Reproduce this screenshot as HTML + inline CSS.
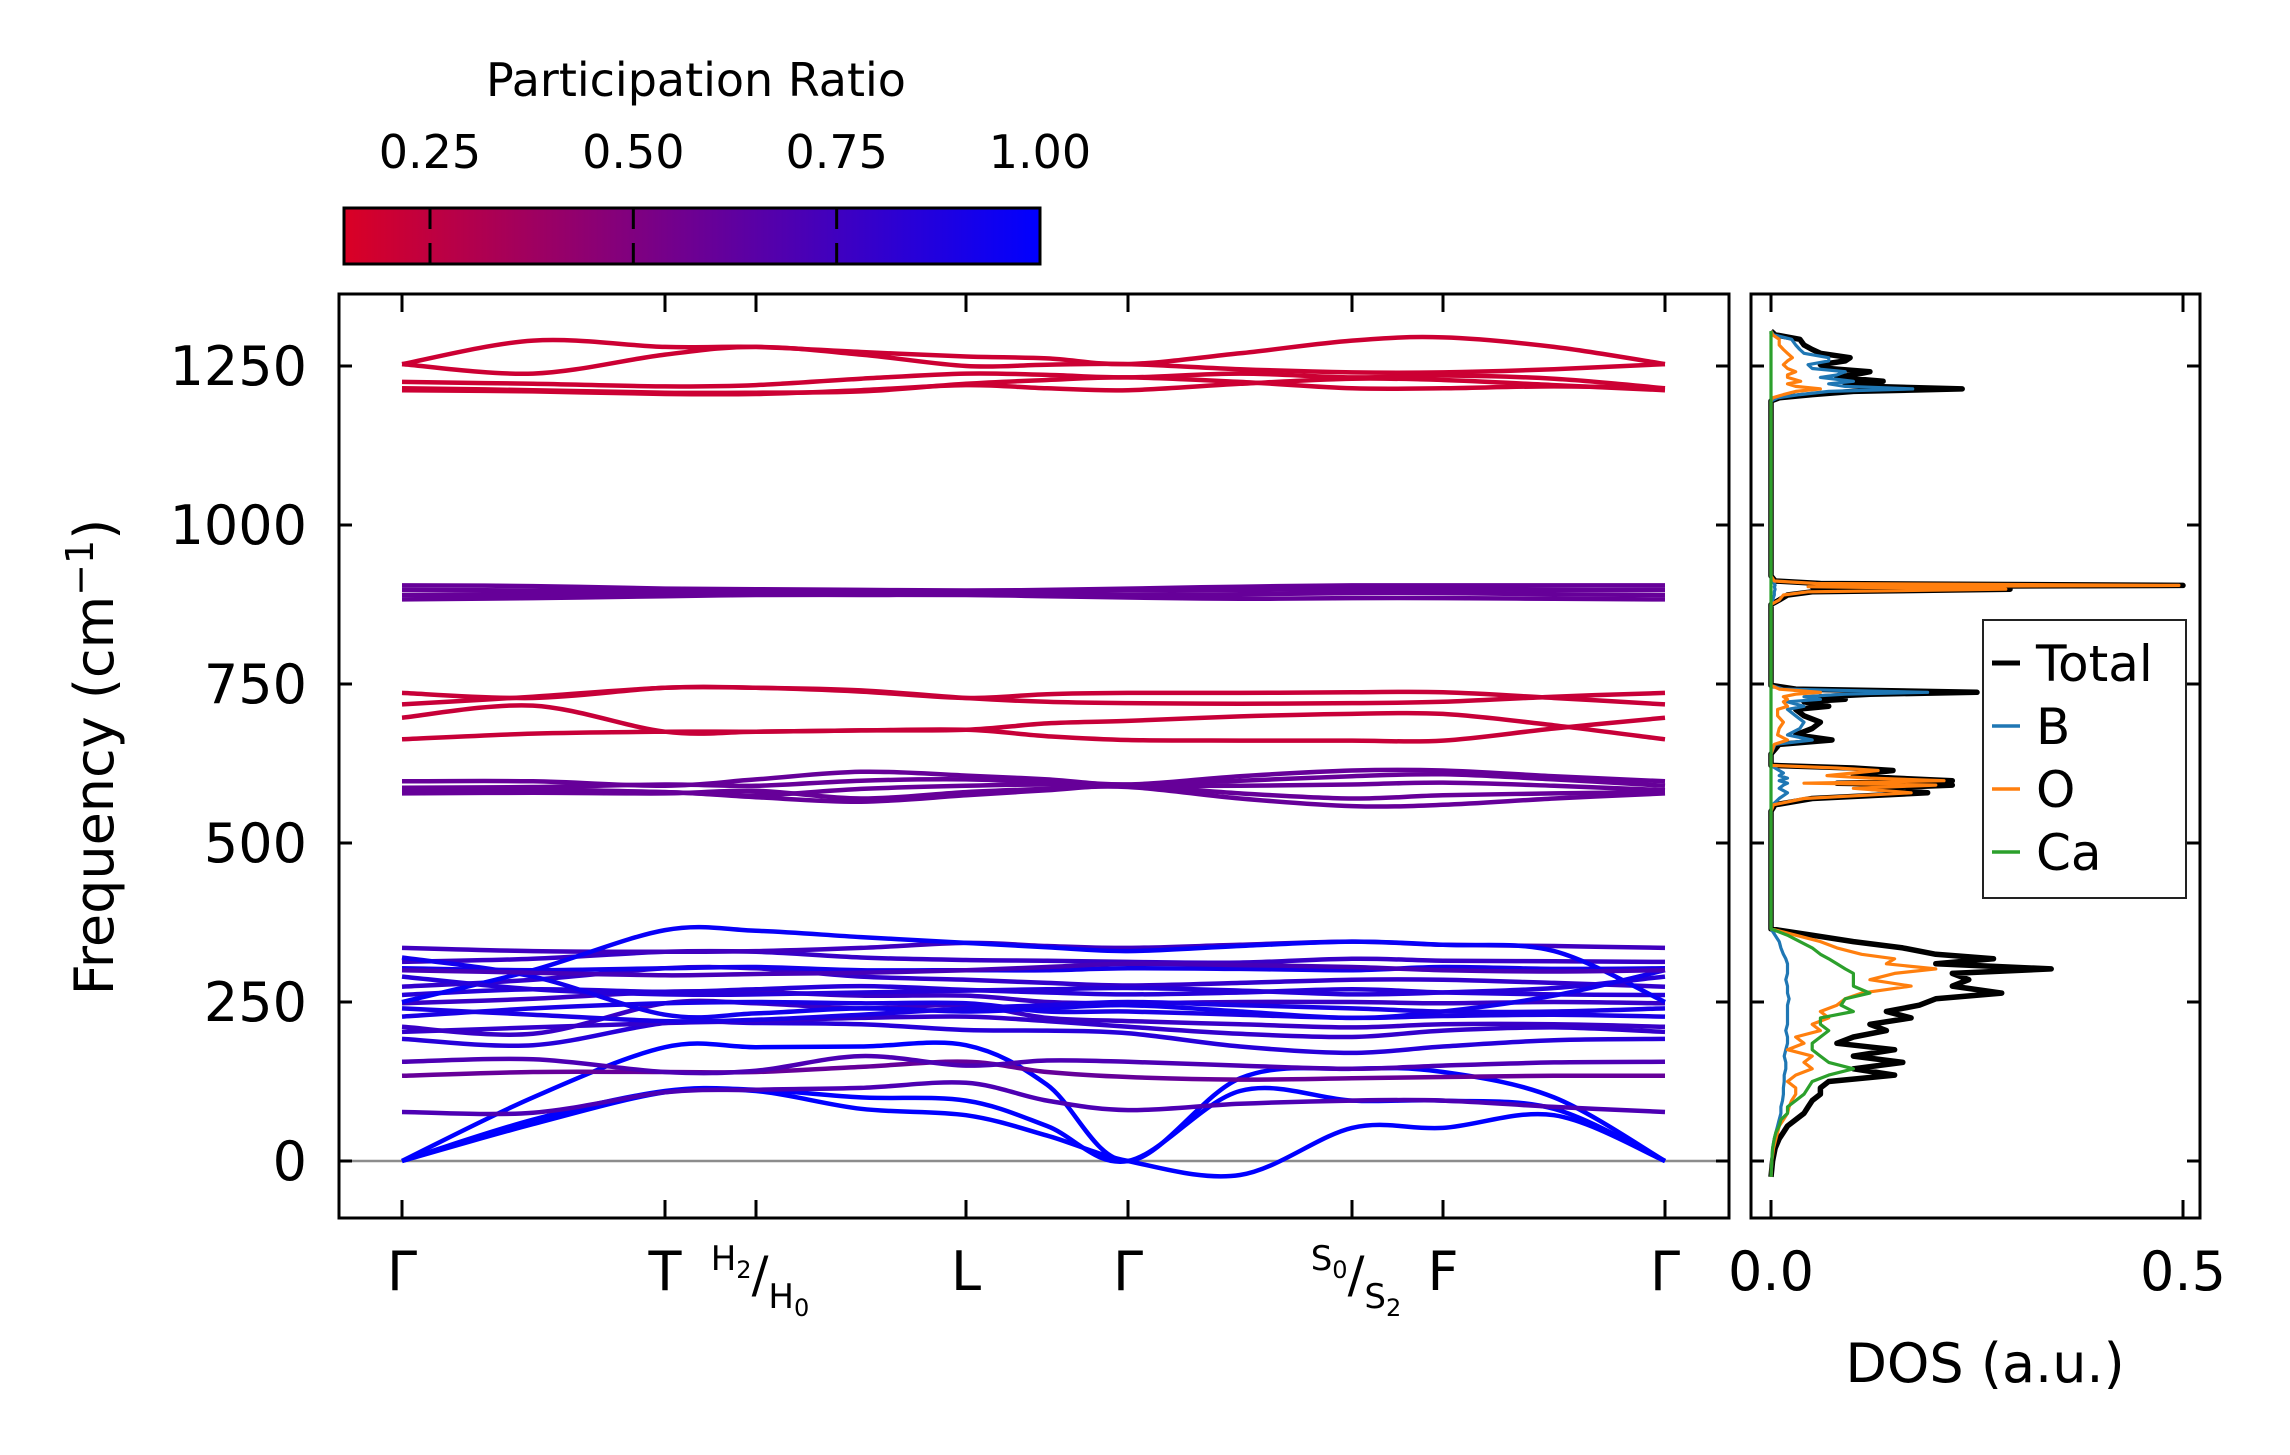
<!DOCTYPE html>
<html><head><meta charset="utf-8"><style>
html,body{margin:0;padding:0;background:#fff;}
svg{display:block;font-family:"DejaVu Sans","Liberation Sans",sans-serif;}
</style></head><body>
<svg id="chart" width="2290" height="1455" viewBox="0 0 2290 1455" xmlns="http://www.w3.org/2000/svg">
<defs>
<linearGradient id="cbgrad" x1="0" x2="1" y1="0" y2="0">
<stop offset="0" stop-color="rgb(218,0,37)"/><stop offset="1" stop-color="rgb(0,0,255)"/>
</linearGradient>
<clipPath id="mainclip"><rect x="339" y="294" width="1390" height="924"/></clipPath>
<clipPath id="dosclip"><rect x="1751" y="294" width="449" height="924"/></clipPath>
</defs>
<g id="bands" clip-path="url(#mainclip)"></g>
<g id="dos" clip-path="url(#dosclip)"></g>
<g id="axes"></g>
</svg>
<script>
// ---- Band structure data ----
const kNodes = [0,131,263,354,459,564,645,726,838,950,1041,1152,1263];
const kTickPos = [0,263,354,564,726,950,1041,1263];
const kTickLabels = ["Γ","T","H2/H0","L","Γ","S0/S2","F","Γ"];
const freqTicks = [0,250,500,750,1000,1250];
const bandFreqs = [
 [1253,1290,1280,1280,1272,1265,1262,1253,1270,1290,1295,1280,1253],
 [1253,1238,1268,1280,1268,1250,1252,1253,1245,1240,1240,1245,1253],
 [1215,1212,1208,1208,1210,1222,1228,1232,1225,1215,1215,1218,1215],
 [1212,1210,1206,1206,1212,1220,1215,1212,1222,1230,1228,1220,1212],
 [1225,1222,1218,1220,1230,1238,1236,1232,1238,1232,1235,1230,1215],
 [905,904,900,899,898,897,898,900,903,905,905,905,905],
 [898,897,896,896,896,895,896,897,898,899,899,898,898],
 [890,891,893,894,892,893,892,890,891,893,893,891,890],
 [883,885,888,890,890,890,888,886,884,885,885,884,883],
 [736,728,744,744,738,728,734,736,736,737,737,728,718],
 [718,730,744,744,740,728,722,720,719,720,722,730,736],
 [697,716,675,675,677,678,688,692,699,703,703,685,663],
 [663,672,675,675,677,678,668,662,661,661,661,680,697],
 [597,597,590,600,612,606,600,592,605,614,614,605,597],
 [587,588,592,590,598,600,595,592,598,605,608,600,590],
 [582,584,580,575,585,590,592,590,590,592,595,590,583],
 [580,580,580,572,565,575,583,590,578,570,575,578,580],
 [578,579,578,582,570,580,585,588,570,558,560,570,578],
 [0,58,108,110,82,72,40,0,-22,52,52,72,0],
 [0,65,110,112,100,95,55,0,110,95,95,82,0],
 [0,100,179,179,180,182,120,0,130,145,140,100,0],
 [77,76,108,112,115,123,95,80,90,95,95,85,77],
 [134,140,140,140,148,156,140,132,128,130,132,134,134],
 [156,160,140,142,165,150,158,156,150,145,150,155,156],
 [192,182,217,217,215,206,205,201,180,170,180,190,192],
 [203,210,217,220,225,227,220,211,200,195,205,210,203],
 [211,200,248,248,240,245,225,220,215,210,215,215,211],
 [227,240,248,250,248,248,235,235,230,225,228,230,227],
 [248,255,266,266,260,260,250,248,250,250,248,250,248],
 [261,270,266,270,275,269,265,262,265,270,265,262,261],
 [274,285,303,303,290,285,280,276,280,285,285,280,274],
 [303,300,303,305,300,300,300,303,302,300,305,302,303],
 [313,318,329,329,320,316,315,313,312,318,315,314,313],
 [335,330,329,330,335,343,338,335,340,345,340,338,335],
 [250,300,363,362,352,343,336,330,338,345,340,330,250],
 [290,270,262,262,265,268,270,272,268,262,265,272,290],
 [320,290,230,232,240,235,240,245,235,225,235,260,300],
 [300,296,292,294,296,300,305,310,308,305,300,298,300],
 [240,230,220,222,230,240,245,250,245,240,235,235,240]
];
const bandRatio = [0.2,0.2,0.2,0.2,0.2,0.6,0.6,0.6,0.6,0.22,0.22,0.22,0.22,0.6,0.6,0.6,0.6,0.6,
 1.0,1.0,1.0,0.7,0.6,0.7,0.85,0.8,0.78,0.9,0.78,0.85,0.8,0.92,0.78,0.75,0.97,0.85,0.93,0.72,0.9];
const cbTicks = [0.25,0.5,0.75,1.0];
const cbTickLabels = ["0.25","0.50","0.75","1.00"];

// ---- DOS data ----
const dosFreq = [
 -25,0,20,35,45,55,65,75,85,95,105,115,125,135,145,155,165,175,185,195,205,215,225,235,245,255,264,275,285,295,302,310,318,325,335,345,355,365,
 375,550,560,570,579,586,591,594,598,602,606,610,614,618,622,
 630,640,655,662,670,680,690,700,710,715,722,726,730,734,737,742,748,
 760,875,882,890,895,899,903,905,908,912,920,
 1195,1200,1205,1210,1214,1218,1222,1226,1232,1236,1241,1246,1252,1258,1263,1270,1276,1283,1292,1299,1305];
const dosTotal = [
 0,0.002,0.005,0.01,0.015,0.02,0.03,0.04,0.045,0.05,0.06,0.06,0.07,0.15,0.10,0.16,0.10,0.15,0.08,0.10,0.14,0.12,0.17,0.14,0.18,0.20,0.28,0.22,0.24,0.22,0.34,0.20,0.27,0.20,0.16,0.10,0.05,0,
 0,0,0.005,0.05,0.19,0.12,0.22,0.08,0.22,0.15,0.10,0.12,0.148,0.10,0,
 0,0,0.01,0.074,0.03,0.05,0.06,0.04,0.03,0.07,0.04,0.09,0.06,0.12,0.25,0.03,0,
 0,0,0.01,0.02,0.05,0.29,0.05,0.50,0.06,0.005,0,
 0,0.01,0.05,0.10,0.232,0.12,0.09,0.136,0.08,0.10,0.12,0.07,0.06,0.09,0.096,0.06,0.05,0.04,0.035,0.005,0];
const dosB = [
 0,0.001,0.002,0.004,0.006,0.008,0.01,0.012,0.012,0.014,0.015,0.015,0.016,0.016,0.018,0.018,0.016,0.018,0.02,0.02,0.018,0.02,0.02,0.02,0.02,0.022,0.02,0.02,0.018,0.02,0.02,0.02,0.018,0.015,0.012,0.01,0.005,0,
 0,0,0.002,0.01,0.02,0.01,0.015,0.02,0.01,0.02,0.01,0.015,0.01,0.005,0,
 0,0,0.005,0.05,0.02,0.035,0.04,0.03,0.02,0.04,0.02,0.06,0.04,0.09,0.19,0.015,0,
 0,0,0.002,0.004,0.004,0.005,0.004,0.005,0.004,0.001,0,
 0,0.008,0.035,0.07,0.172,0.09,0.07,0.10,0.06,0.08,0.09,0.05,0.045,0.07,0.07,0.04,0.035,0.03,0.025,0.003,0];
const dosO = [
 0,0.001,0.003,0.006,0.008,0.01,0.015,0.02,0.022,0.025,0.03,0.03,0.02,0.03,0.05,0.04,0.05,0.02,0.04,0.03,0.06,0.05,0.07,0.06,0.08,0.09,0.11,0.17,0.12,0.15,0.20,0.14,0.15,0.11,0.08,0.06,0.03,0,
 0,0,0.003,0.04,0.17,0.10,0.20,0.04,0.21,0.12,0.068,0.10,0.13,0.08,0,
 0,0,0.004,0.02,0.008,0.01,0.015,0.008,0.008,0.02,0.015,0.02,0.015,0.03,0.06,0.01,0,
 0,0,0.01,0.015,0.045,0.285,0.045,0.495,0.055,0.004,0,
 0,0.002,0.015,0.03,0.06,0.03,0.02,0.036,0.02,0.02,0.03,0.02,0.015,0.02,0.026,0.02,0.015,0.01,0.01,0.002,0];
const dosCa = [
 0,0.001,0.002,0.004,0.006,0.01,0.012,0.02,0.02,0.03,0.04,0.045,0.05,0.07,0.10,0.07,0.06,0.05,0.05,0.06,0.07,0.06,0.06,0.10,0.085,0.09,0.12,0.10,0.10,0.10,0.09,0.08,0.07,0.06,0.05,0.035,0.02,0,
 0,0,0,0,0,0,0,0,0,0,0,0,0,0,0,
 0,0,0,0,0,0,0,0,0,0,0,0,0,0,0,0,0,
 0,0,0,0,0,0,0,0,0,0,0,
 0,0,0,0,0,0,0,0,0,0,0,0,0,0,0,0,0,0,0,0,0];
const dosTicks = [0.0,0.5];
const dosTickLabels = ["0.0","0.5"];
const legendLabels = ["Total","B","O","Ca"];
const legendColors = ["#000000","#1f77b4","#ff7f0e","#2ca02c"];

// ---- scales ----
const NS = "http://www.w3.org/2000/svg";
const AX = {l:339, r:1729, t:294, b:1218};
const DX = {l:1751, r:2200};
function xK(k){ return 402 + k * (1665-402)/1263; }
function yF(f){ return 1161 - f * 0.636; }
function xD(d){ return 1771 + d * (2183-1771)/0.5; }
function cbX(p){ return 430 + (p-0.25) * (1040-430)/0.75; }
function ratioColor(p){ return "rgb(" + Math.round(255*(1-p)) + ",0," + Math.round(255*p) + ")"; }
function mk(tag, attrs, parent){ const e=document.createElementNS(NS,tag); for(const a in attrs) e.setAttribute(a,attrs[a]); parent.appendChild(e); return e; }
function smoothPath(pts){
  let d = "M"+pts[0][0].toFixed(1)+","+pts[0][1].toFixed(1);
  for(let i=0;i<pts.length-1;i++){
    const p0=pts[Math.max(0,i-1)], p1=pts[i], p2=pts[i+1], p3=pts[Math.min(pts.length-1,i+2)];
    const c1=[p1[0]+(p2[0]-p0[0])/6, p1[1]+(p2[1]-p0[1])/6];
    const c2=[p2[0]-(p3[0]-p1[0])/6, p2[1]-(p3[1]-p1[1])/6];
    d += " C"+c1[0].toFixed(1)+","+c1[1].toFixed(1)+" "+c2[0].toFixed(1)+","+c2[1].toFixed(1)+" "+p2[0].toFixed(1)+","+p2[1].toFixed(1);
  }
  return d;
}
const gB = document.getElementById("bands");
const gD = document.getElementById("dos");
const gA = document.getElementById("axes");

const zl = mk("line",{x1:AX.l,x2:AX.r,y1:yF(0),y2:yF(0),stroke:"#8c8c8c","stroke-width":2.5},gB);



bandFreqs.forEach(function(b,i){
  const pts = b.map(function(f,j){ return [xK(kNodes[j]), yF(f)]; });
  const p = mk("path",{d:smoothPath(pts),fill:"none",stroke:ratioColor(bandRatio[i]),"stroke-width":4.5,"stroke-linejoin":"round"},gB);
  
  
});

function dosLine(vals, color, w, name){
  let d="";
  vals.forEach(function(v,i){ d += (i?" L":"M") + xD(v).toFixed(1) + "," + yF(dosFreq[i]).toFixed(1); });
  const p = mk("path",{d:d,fill:"none",stroke:color,"stroke-width":w,"stroke-linejoin":"round"},gD);
  
  
}
dosLine(dosTotal,"#000000",5.5,"dos-total-line");
dosLine(dosB,"#1f77b4",3.2,"dos-b-line");
dosLine(dosO,"#ff7f0e",3.2,"dos-o-line");
dosLine(dosCa,"#2ca02c",3.2,"dos-ca-line");

const f1 = mk("rect",{x:AX.l,y:AX.t,width:AX.r-AX.l,height:AX.b-AX.t,fill:"none",stroke:"#000","stroke-width":3},gA);


const f2 = mk("rect",{x:DX.l,y:AX.t,width:DX.r-DX.l,height:AX.b-AX.t,fill:"none",stroke:"#000","stroke-width":3},gA);



freqTicks.forEach(function(f){
  const y=yF(f);
  [[AX.l,AX.l+13],[AX.r-13,AX.r],[DX.l,DX.l+13],[DX.r-13,DX.r]].forEach(function(s){
    const t=mk("line",{x1:s[0],x2:s[1],y1:y,y2:y,stroke:"#000","stroke-width":3},gA);
    
    
  });
  const lb=mk("text",{x:307,y:y+19,"text-anchor":"end","font-size":54,fill:"#000"},gA);
  lb.textContent=String(f);
  
  
});
kTickPos.forEach(function(k,i){
  const x=xK(k);
  [[AX.t,AX.t+18],[AX.b-18,AX.b]].forEach(function(s){
    const t=mk("line",{x1:x,x2:x,y1:s[0],y2:s[1],stroke:"#000","stroke-width":3},gA);
    
    
  });
  const lab=kTickLabels[i];
  const tx=mk("text",{x:x,y:1290,"text-anchor":"middle","font-size":54,fill:"#000"},gA);
  
  
  if(lab.indexOf("/")>=0){
    const parts=lab.split("/");
    const a=parts[0], b=parts[1];
    tx.setAttribute("font-size",40);
    tx.setAttribute("x",x+4);
    const s1=mk("tspan",{"font-size":34,dy:-20},tx); s1.textContent=a[0];
    const s1b=mk("tspan",{"font-size":24,dy:8},tx); s1b.textContent=a[1];
    const s2=mk("tspan",{"font-size":50,dy:14},tx); s2.textContent="/";
    const s3=mk("tspan",{"font-size":34,dy:16},tx); s3.textContent=b[0];
    const s3b=mk("tspan",{"font-size":24,dy:8},tx); s3b.textContent=b[1];
  } else { tx.textContent=lab; }
});
dosTicks.forEach(function(d,i){
  const x=xD(d);
  [[AX.t,AX.t+18],[AX.b-18,AX.b]].forEach(function(s){
    const t=mk("line",{x1:x,x2:x,y1:s[0],y2:s[1],stroke:"#000","stroke-width":3},gA);
    
    
  });
  const lb=mk("text",{x:x,y:1290,"text-anchor":"middle","font-size":54,fill:"#000"},gA);
  lb.textContent=dosTickLabels[i];
  
  
});
const yt=mk("text",{x:0,y:0,"text-anchor":"middle","font-size":54,fill:"#000",transform:"translate(113,757) rotate(-90)"},gA);


yt.textContent="Frequency (cm";
const ysup=mk("tspan",{"font-size":38,dy:-20},yt); ysup.textContent="−1";
const yclose=mk("tspan",{"font-size":54,dy:20},yt); yclose.textContent=")";
const dt=mk("text",{x:1985,y:1382,"text-anchor":"middle","font-size":54,fill:"#000"},gA);
dt.textContent="DOS (a.u.)";



const lg=mk("g",{},gA);


const lr=mk("rect",{x:1983,y:620,width:203,height:278,fill:"#fff",stroke:"#222","stroke-width":2},lg);


legendLabels.forEach(function(l,i){
  const y=663+i*63;
  const ln=mk("line",{x1:1992,x2:2020,y1:y,y2:y,stroke:legendColors[i],"stroke-width":i===0?5:3.5},lg);
  
  
  const tx=mk("text",{x:2036,y:y+18,"font-size":50,fill:"#000"},lg);
  tx.textContent=l;
  
  
});

const cb=mk("g",{},gA);


const cr=mk("rect",{x:344,y:208,width:696,height:56,fill:"url(#cbgrad)",stroke:"#000","stroke-width":3},cb);


cbTicks.forEach(function(p,i){
  const x=cbX(p);
  if(p<1){
    [[208,229],[243,264]].forEach(function(s){
      const t=mk("line",{x1:x,x2:x,y1:s[0],y2:s[1],stroke:"#000","stroke-width":3},cb);
      
      
    });
  }
  const lb=mk("text",{x:x,y:168,"text-anchor":"middle","font-size":46,fill:"#000"},cb);
  lb.textContent=cbTickLabels[i];
  
  
});
const ct=mk("text",{x:696,y:96,"text-anchor":"middle","font-size":46,fill:"#000"},cb);
ct.textContent="Participation Ratio";


</script>
</body></html>
